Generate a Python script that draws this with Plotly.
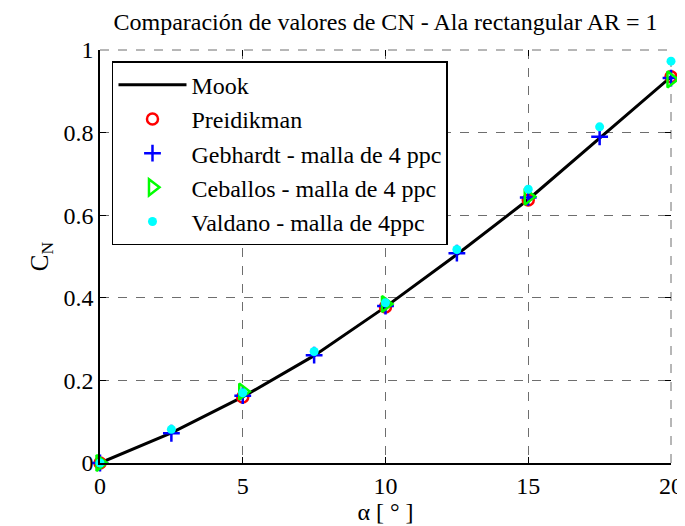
import plotly.graph_objects as go

# Data
mook_x = [0, 2.5, 5, 7.5, 10, 12.5, 15, 17.5, 20]
mook_y = [0, 0.073, 0.160, 0.260, 0.378, 0.505, 0.638, 0.786, 0.935]

preid_x = [0, 5, 10, 15, 20]
preid_y = [0, 0.160, 0.378, 0.637, 0.935]

geb_x = [0, 2.5, 5, 7.5, 10, 12.5, 15, 17.5, 20]
geb_y = [0, 0.072, 0.163, 0.261, 0.380, 0.508, 0.643, 0.790, 0.932]

ceb_x = [0, 5, 10, 15, 20]
ceb_y = [0, 0.173, 0.385, 0.645, 0.929]

val_x = [0, 2.5, 5, 7.5, 10, 12.5, 15, 17.5, 20]
val_y = [0, 0.0815, 0.170, 0.270, 0.388, 0.517, 0.663, 0.814, 0.973]

x_ticks = [0, 5, 10, 15, 20]
y_ticks = [0, 0.2, 0.4, 0.6, 0.8, 1]
y_tick_labels = ["0", "0.2", "0.4", "0.6", "0.8", "1"]

FONT = "Liberation Serif"
GRID = "#6e6e6e"

fig = go.Figure()
fig.add_trace(go.Scatter(x=mook_x, y=mook_y, mode="lines", name="Mook",
                         line=dict(color="black", width=3), cliponaxis=False))
fig.add_trace(go.Scatter(x=preid_x, y=preid_y, mode="markers", name="Preidikman",
                         marker=dict(symbol="circle-open", color="red", size=11,
                                     line=dict(width=2.5, color="red")), cliponaxis=False))
fig.add_trace(go.Scatter(x=geb_x, y=geb_y, mode="markers", name="Gebhardt - malla de 4 ppc",
                         marker=dict(symbol="cross-thin-open", color="blue", size=12,
                                     line=dict(width=2.5, color="blue")), cliponaxis=False))
fig.add_trace(go.Scatter(x=ceb_x, y=ceb_y, mode="markers", name="Ceballos - malla de 4 ppc",
                         marker=dict(symbol="triangle-right-open", color="#00ff00", size=14,
                                     line=dict(width=2.5, color="#00ff00")), cliponaxis=False))
fig.add_trace(go.Scatter(x=val_x, y=val_y, mode="markers", name="Valdano - malla de 4ppc",
                         marker=dict(symbol="circle", color="cyan", size=9), cliponaxis=False))
# empty trace so the mirrored (top/right) tick axes get drawn
fig.add_trace(go.Scatter(x=[], y=[], xaxis="x2", yaxis="y2", showlegend=False,
                         hoverinfo="skip"))

fig.update_layout(
    width=677, height=518,
    margin=dict(l=92, r=14, t=42, b=63),
    paper_bgcolor="white", plot_bgcolor="white",
    font=dict(family=FONT, size=24, color="black"),
    title=dict(text="Comparación de valores de CN - Ala rectangular AR = 1",
               x=0.5, xref="paper", xanchor="center", y=0.973, yanchor="middle",
               font=dict(family=FONT, size=24, color="black"), automargin=False),
    showlegend=True,
    legend=dict(x=0.021, y=0.973, xanchor="left", yanchor="top",
                bgcolor="white", bordercolor="black", borderwidth=1.5,
                font=dict(family=FONT, size=24), tracegroupgap=0,
                itemwidth=68),
    xaxis=dict(range=[0, 20], tickvals=x_ticks, ticktext=[str(v) for v in x_ticks],
               showline=True, linecolor="black", linewidth=1.5, automargin=False,
               ticks="inside", ticklen=6, tickcolor="black",
               showgrid=True, gridcolor=GRID, griddash="dash", gridwidth=1,
               zeroline=False, tickfont=dict(family=FONT, size=24),
               title=dict(text="α [ ° ]", standoff=2, font=dict(family=FONT, size=24))),
    yaxis=dict(range=[0, 1], tickvals=y_ticks, ticktext=y_tick_labels,
               showline=True, linecolor="black", linewidth=1.5, automargin=False,
               ticks="inside", ticklen=6, tickcolor="black",
               showgrid=True, gridcolor=GRID, griddash="dash", gridwidth=1,
               zeroline=False, tickfont=dict(family=FONT, size=24),
               title=dict(text="C<sub>N</sub>", standoff=8, font=dict(family=FONT, size=25))),
    xaxis2=dict(overlaying="x", side="top", range=[0, 20], tickvals=x_ticks,
                showticklabels=False, ticks="inside", ticklen=6, tickcolor="black",
                showgrid=False, showline=False, zeroline=False, automargin=False),
    yaxis2=dict(overlaying="y", side="right", range=[0, 1], tickvals=y_ticks,
                showticklabels=False, ticks="inside", ticklen=6, tickcolor="black",
                showgrid=False, showline=False, zeroline=False, automargin=False),
    shapes=[
        dict(type="line", xref="x domain", yref="y domain", x0=0, x1=1, y0=1, y1=1,
             line=dict(color=GRID, width=1, dash="dash"), layer="below"),
        dict(type="line", xref="x domain", yref="y domain", x0=1, x1=1, y0=0, y1=1,
             line=dict(color=GRID, width=1, dash="dash"), layer="below"),
    ],
)

fig.write_html("out.html")
